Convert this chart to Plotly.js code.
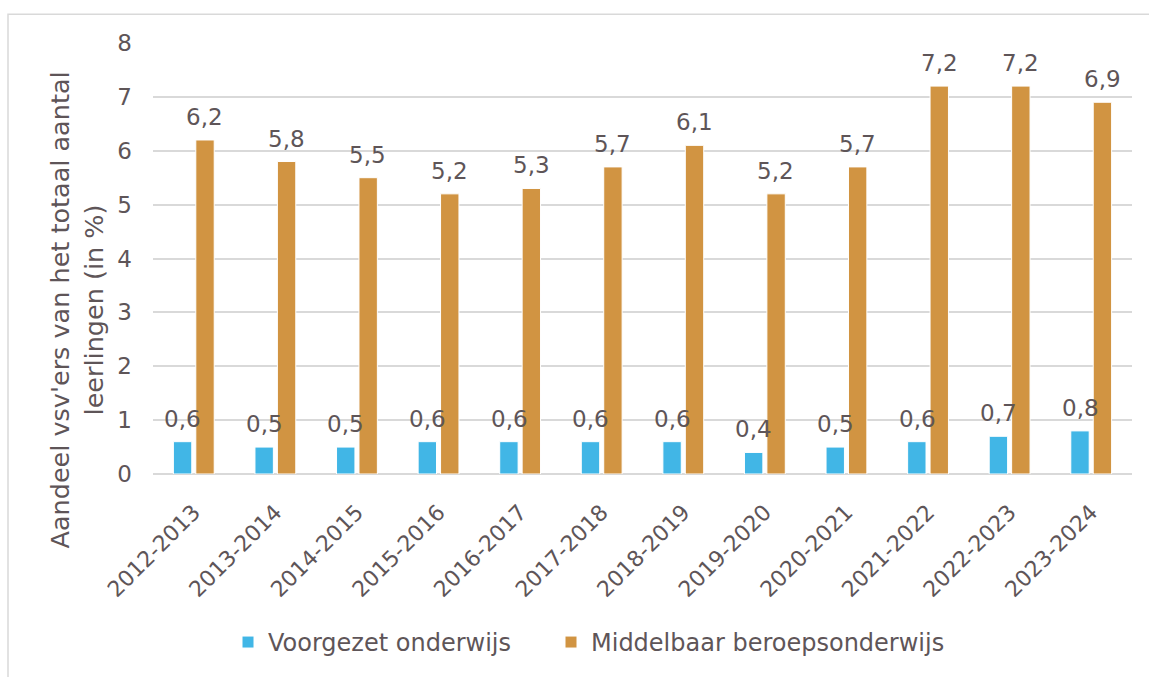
<!DOCTYPE html>
<html>
<head>
<meta charset="utf-8">
<script src="https://cdn.plot.ly/plotly-3.0.1.min.js"></script>
<style>html,body{margin:0;padding:0;background:#fff;}#chart{width:1149px;height:677px;}</style>
</head>
<body>
<div id="chart"></div>
<script>
const categories = ["2012-2013","2013-2014","2014-2015","2015-2016","2016-2017","2017-2018","2018-2019","2019-2020","2020-2021","2021-2022","2022-2023","2023-2024"];
const voValues = [0.6,0.5,0.5,0.6,0.6,0.6,0.6,0.4,0.5,0.6,0.7,0.8];
const mboValues = [6.2,5.8,5.5,5.2,5.3,5.7,6.1,5.2,5.7,7.2,7.2,6.9];
const seriesNames = ["Voorgezet onderwijs","Middelbaar beroepsonderwijs"];
const yTicks = [0,1,2,3,4,5,6,7,8];
const yTitle = "Aandeel vsv'ers van het totaal aantal<br>leerlingen (in %)";

const txt = '#5E5558';
const font = 'DejaVu Sans, Verdana, sans-serif';
const fmt = v => v.toFixed(1).replace('.', ',');

const mk = (name, y, color, leg) => ({
  type: 'bar', name: name, x: categories, y: y, legend: leg,
  marker: {color: color, line: {color: '#ffffff', width: 1}},
  hoverinfo: 'skip'
});

const data = [mk(seriesNames[0], voValues, '#41B6E6', 'legend'), mk(seriesNames[1], mboValues, '#D19442', 'legend2')];

const labelAnn = (vals, shift) => vals.map((v, i) => ({
  x: categories[i], y: v, xref: 'x', yref: 'y', text: fmt(v), showarrow: false,
  xanchor: 'center', yanchor: 'bottom', xshift: shift, yshift: 8,
  font: {family: font, size: 23, color: txt}
}));

const L = 153, T = 43, W = 979, H = 435;
const px = x => (x - L) / W, py = y => (T + H - y) / H;
const legFont = {family: font, size: 24, color: txt};

const layout = {
  width: 1149, height: 677,
  margin: {l: L, r: 1149 - L - W, t: T, b: 677 - T - H},
  paper_bgcolor: '#fff', plot_bgcolor: '#fff',
  font: {family: font, color: txt},
  barmode: 'group', bargap: 0.45, bargroupgap: 0.18,
  showlegend: true,
  legend: {orientation: 'h', x: px(228), xanchor: 'left', y: py(648), yanchor: 'middle',
    font: legFont, itemwidth: 30},
  legend2: {orientation: 'h', x: px(551), xanchor: 'left', y: py(648), yanchor: 'middle',
    font: legFont, itemwidth: 30},
  xaxis: {
    type: 'category', tickangle: -45, tickfont: {family: font, size: 22, color: txt},
    showgrid: false, showline: false, zeroline: false, ticks: '', automargin: false,
    ticklabelstandoff: 20
  },
  yaxis: {
    range: [0, 8], tickvals: yTicks, ticktext: yTicks.map(String),
    tickfont: {family: font, size: 23, color: txt},
    gridcolor: '#D9D9D9', gridwidth: 2, zeroline: true, zerolinecolor: '#D9D9D9', zerolinewidth: 2,
    showline: false, ticks: '', automargin: false, ticklabelstandoff: 20
  },
  annotations: labelAnn(voValues, -11).concat(labelAnn(mboValues, 11)).concat([{
    xref: 'paper', yref: 'paper', x: px(77), y: py(313), xanchor: 'center', yanchor: 'middle',
    text: yTitle, textangle: -90, showarrow: false,
    font: {family: font, size: 25.5, color: txt}
  }]),
  shapes: [{type: 'rect', xref: 'paper', yref: 'paper',
    x0: px(8), x1: px(1160), y0: py(690), y1: py(14),
    line: {color: '#D9D9D9', width: 1.5}, fillcolor: 'rgba(0,0,0,0)', layer: 'below'}]
};

Plotly.newPlot('chart', data, layout, {displayModeBar: false, staticPlot: true});
</script>
</body>
</html>
